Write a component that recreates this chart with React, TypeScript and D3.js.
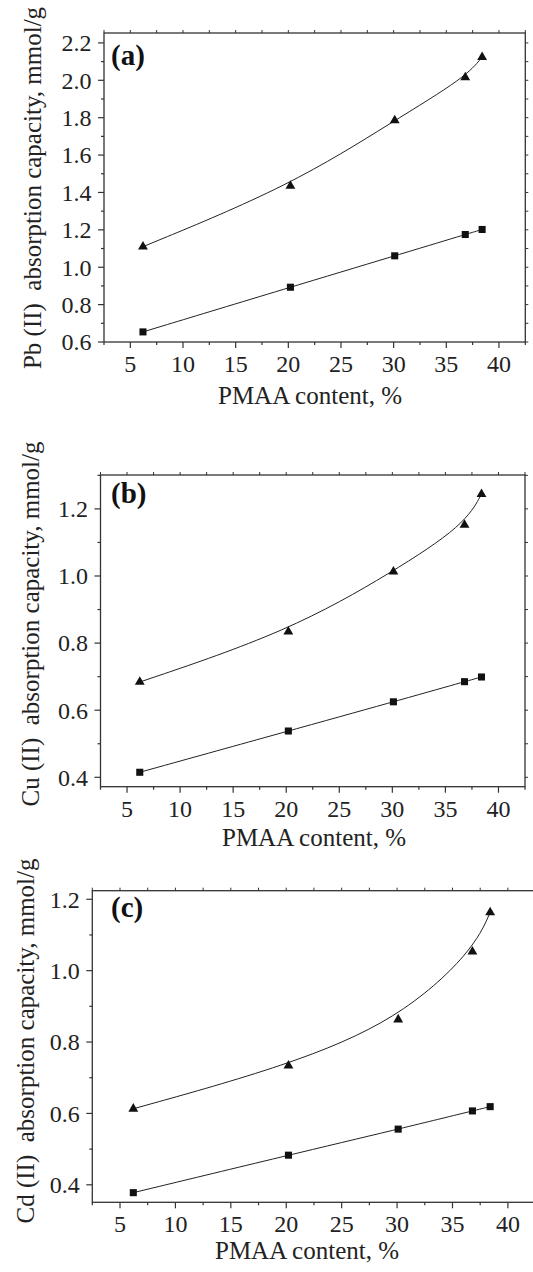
import React from "react";
import * as d3 from "d3";

// PMAA content (%) of the five samples
const pmaa = [6.2, 20.2, 30.1, 36.8, 38.4];

// absorption capacity, mmol/g (triangles = upper series, squares = lower series)
const pbTriangle = [1.11, 1.435, 1.785, 2.015, 2.124];
const pbSquare = [0.654, 0.893, 1.061, 1.175, 1.202];
const cuTriangle = [0.684, 0.834, 1.013, 1.152, 1.244];
const cuSquare = [0.415, 0.538, 0.625, 0.685, 0.699];
const cdTriangle = [0.613, 0.734, 0.863, 1.053, 1.163];
const cdSquare = [0.378, 0.483, 0.556, 0.607, 0.619];

const xTicks = [5, 10, 15, 20, 25, 30, 35, 40];
const xMinorTicks = [2.5, 7.5, 12.5, 17.5, 22.5, 27.5, 32.5, 37.5, 42.5];
const pbTicks = [0.6, 0.8, 1.0, 1.2, 1.4, 1.6, 1.8, 2.0, 2.2];
const pbMinorTicks = [0.7, 0.9, 1.1, 1.3, 1.5, 1.7, 1.9, 2.1];
const cuTicks = [0.4, 0.6, 0.8, 1.0, 1.2];
const cuMinorTicks = [0.5, 0.7, 0.9, 1.1, 1.3];
const cdTicks = [0.4, 0.6, 0.8, 1.0, 1.2];
const cdMinorTicks = [0.5, 0.7, 0.9, 1.1];

const FONT = "'Liberation Serif', 'Times New Roman', serif";
const AXIS = "#333";

type PanelProps = {
  tag: string;
  yLabel: string;
  triangles: number[];
  squares: number[];
  yDomain: [number, number];
  yTicks: number[];
  yMinor: number[];
  box: { left: number; right: number; top: number; bottom: number };
  tagPos: [number, number];
  yTitlePos: [number, number];
  xTitlePos: [number, number];
};

function Panel(p: PanelProps) {
  const { left, right, top, bottom } = p.box;
  const x = d3.scaleLinear().domain([2.5, 42.5]).range([left, right]);
  const y = d3.scaleLinear().domain(p.yDomain).range([bottom, top]);

  // smoothed guide lines, like the fitted curves of the original
  const line = d3
    .line<number>()
    .x((d, i) => x(pmaa[i]))
    .y(d => y(d))
    .curve(d3.curveBasis);

  const tri = d3.symbol().type(d3.symbolTriangle).size(42)();
  const sq = d3.symbol().type(d3.symbolSquare).size(50)();
  const fmt = d3.format(".1f");

  return (
    <g>
      {/* frame */}
      <rect
        x={left}
        y={top}
        width={right - left}
        height={bottom - top}
        fill="none"
        stroke={AXIS}
        strokeWidth={1.3}
      />

      {/* bottom axis ticks */}
      {xTicks.map(t => (
        <line key={"xb" + t} x1={x(t)} x2={x(t)} y1={bottom} y2={bottom + 6} stroke={AXIS} strokeWidth={1.2} />
      ))}
      {xMinorTicks.map(t => (
        <line key={"xm" + t} x1={x(t)} x2={x(t)} y1={bottom} y2={bottom + 3} stroke={AXIS} strokeWidth={1.2} />
      ))}
      {/* top mirror ticks */}
      {xTicks.concat(xMinorTicks).map(t => (
        <line key={"xt" + t} x1={x(t)} x2={x(t)} y1={top} y2={top - 3} stroke={AXIS} strokeWidth={1} />
      ))}
      {xTicks.map(t => (
        <text
          key={"xl" + t}
          x={x(t)}
          y={bottom + 30}
          textAnchor="middle"
          fontFamily={FONT}
          fontSize={24}
          fill="#222"
        >
          {t}
        </text>
      ))}

      {/* left axis ticks */}
      {p.yTicks.map(t => (
        <line key={"yl" + t} x1={left} x2={left - 6} y1={y(t)} y2={y(t)} stroke={AXIS} strokeWidth={1.2} />
      ))}
      {p.yMinor.map(t => (
        <line key={"ym" + t} x1={left} x2={left - 3} y1={y(t)} y2={y(t)} stroke={AXIS} strokeWidth={1.2} />
      ))}
      {/* right mirror ticks */}
      {p.yTicks.concat(p.yMinor).map(t => (
        <line key={"yr" + t} x1={right} x2={right + 3} y1={y(t)} y2={y(t)} stroke={AXIS} strokeWidth={1} />
      ))}
      {p.yTicks.map(t => (
        <text
          key={"ytl" + t}
          x={left - 12.5}
          y={y(t)}
          dy="0.35em"
          textAnchor="end"
          fontFamily={FONT}
          fontSize={24}
          fill="#222"
        >
          {fmt(t)}
        </text>
      ))}

      {/* curves */}
      <path d={line(p.triangles) || ""} fill="none" stroke="#222" strokeWidth={1} />
      <path d={line(p.squares) || ""} fill="none" stroke="#222" strokeWidth={1} />

      {p.triangles.map((v, i) => (
        <path key={"t" + i} d={tri || ""} transform={`translate(${x(pmaa[i])},${y(v)})`} fill="#111" />
      ))}
      {p.squares.map((v, i) => (
        <path key={"s" + i} d={sq || ""} transform={`translate(${x(pmaa[i])},${y(v)})`} fill="#111" />
      ))}

      <text x={p.tagPos[0]} y={p.tagPos[1]} fontFamily={FONT} fontSize={29} fontWeight="bold" fill="#111">
        {p.tag}
      </text>

      <text
        transform={`translate(${p.yTitlePos[0]},${p.yTitlePos[1]}) rotate(-90)`}
        textAnchor="middle"
        fontFamily={FONT}
        fontSize={25}
        fill="#222"
        style={{ whiteSpace: "pre" }}
      >
        {p.yLabel}
      </text>
      <text
        x={p.xTitlePos[0]}
        y={p.xTitlePos[1]}
        textAnchor="middle"
        fontFamily={FONT}
        fontSize={25}
        fill="#222"
      >
        PMAA content, %
      </text>
    </g>
  );
}

export default function App() {
  return (
    <div style={{ position: "absolute", left: 0, top: 0 }}>
      <svg width={533} height={1272} style={{ display: "block", background: "#fff" }}>
        <Panel
          tag="(a)"
          yLabel="Pb (II)  absorption capacity, mmol/g"
          triangles={pbTriangle}
          squares={pbSquare}
          yDomain={[0.6, 2.253]}
          yTicks={pbTicks}
          yMinor={pbMinorTicks}
          box={{ left: 104, right: 525.3, top: 33, bottom: 342 }}
          tagPos={[111, 65]}
          yTitlePos={[41, 188]}
          xTitlePos={[310, 404]}
        />
        <Panel
          tag="(b)"
          yLabel="Cu (II)  absorption capacity, mmol/g"
          triangles={cuTriangle}
          squares={cuSquare}
          yDomain={[0.372, 1.301]}
          yTicks={cuTicks}
          yMinor={cuMinorTicks}
          box={{ left: 100.5, right: 525, top: 475, bottom: 786.7 }}
          tagPos={[111, 503]}
          yTitlePos={[39, 624]}
          xTitlePos={[314, 846]}
        />
        <Panel
          tag="(c)"
          yLabel="Cd (II)  absorption capacity, mmol/g"
          triangles={cdTriangle}
          squares={cdSquare}
          yDomain={[0.351, 1.224]}
          yTicks={cdTicks}
          yMinor={cdMinorTicks}
          box={{ left: 92.3, right: 535.6, top: 890.7, bottom: 1202.3 }}
          tagPos={[111, 917]}
          yTitlePos={[34, 1041]}
          xTitlePos={[307, 1259]}
        />
      </svg>
    </div>
  );
}
